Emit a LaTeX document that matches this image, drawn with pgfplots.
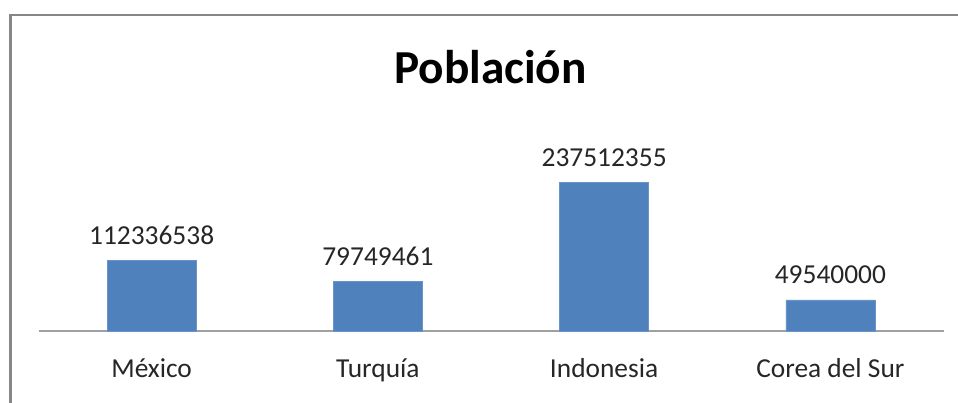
\documentclass[border=0pt]{standalone}
\usepackage{pgfplots}
\pgfplotsset{compat=1.18}
\usepackage{pgfplotstable}
\usepackage{fontspec}
\setmainfont{Carlito}
\definecolor{barblue}{HTML}{4F81BD}
\definecolor{framegray}{HTML}{878787}
\definecolor{axisgray}{HTML}{A0A0A0}
\definecolor{txt}{HTML}{262626}
\pgfplotstableread{
x y lab
0 112336538 112336538
1 79749461 79749461
2 237512355 237512355
3 49540000 49540000
}\poblacion
\begin{document}
\begin{tikzpicture}
\path[use as bounding box] (0,0) rectangle (958bp,403bp);
\draw[framegray, line width=2.2bp] (10.5bp,0) -- (10.5bp,388bp) -- (958bp,388bp);
\node[font=\fontsize{47.5}{52}\selectfont\bfseries, text=black] at (490.5bp,336bp) {Población};
\begin{axis}[
  at={(38.5bp,72bp)}, anchor=south west,
  scale only axis, width=905bp, height=188bp,
  xmin=-0.5, xmax=3.5, ymin=0, ymax=300000000,
  axis y line=none, axis x line*=bottom,
  x axis line style={axisgray, line width=1.3bp, -},
  xtick=data, xticklabels={México,Turquía,Indonesia,Corea del Sur},
  major tick length=0pt,
  xticklabel style={font=\fontsize{27.5}{32}\selectfont, text=txt, anchor=base, yshift=-46bp},
  ytick=\empty,
  ybar, bar width=89bp,
  clip=false,
  nodes near coords,
  point meta=explicit symbolic,
  every node near coord/.append style={font=\fontsize{27.5}{32}\selectfont, text=txt, anchor=base, yshift=16bp},
]
\addplot[fill=barblue, draw=barblue!85!white, line width=0.5bp] table[x=x, y=y, meta=lab] {\poblacion};
\end{axis}
\end{tikzpicture}
\end{document}
